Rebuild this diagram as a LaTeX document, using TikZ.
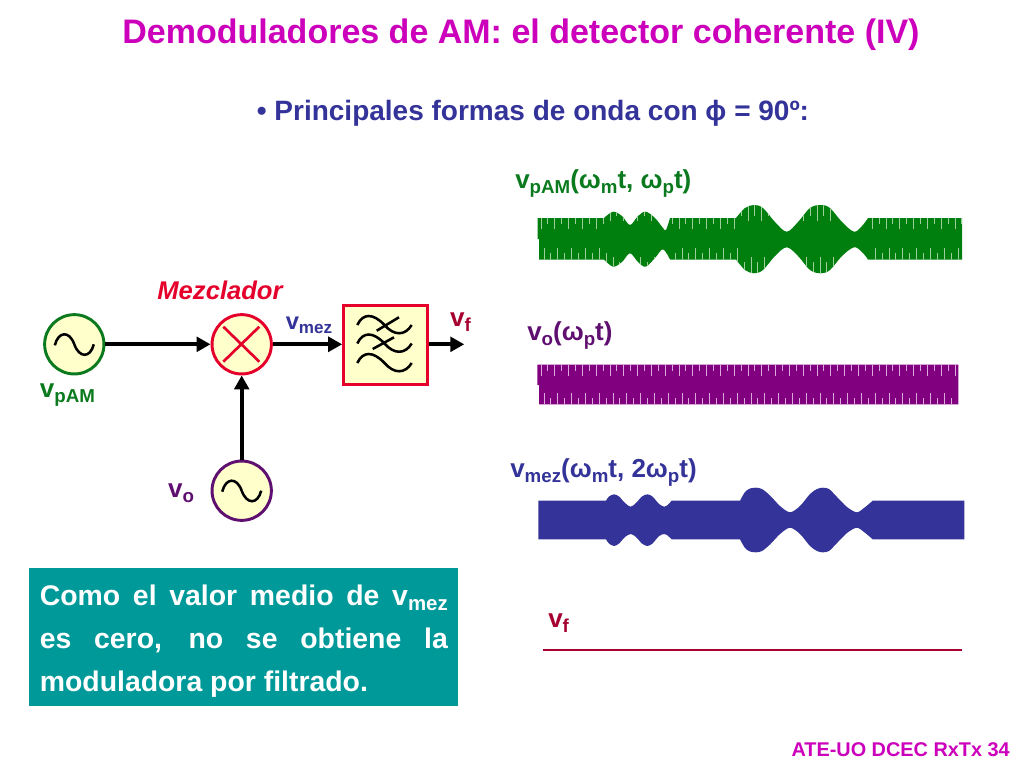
\documentclass[tikz,border=0pt]{standalone}
\usepackage{fontspec}
\setmainfont{Liberation Sans}
\usetikzlibrary{arrows.meta, calc}
\definecolor{cream}{HTML}{FFFFCC}
\definecolor{mixred}{HTML}{E4002B}
\definecolor{pamgreen}{HTML}{007F0E}
\definecolor{pamtick}{HTML}{9CCF9C}
\definecolor{ogreen}{HTML}{0B7A1E}
\definecolor{opurple}{HTML}{5F0F6F}
\definecolor{wavepurple}{HTML}{800080}
\definecolor{otick}{HTML}{DDA8DD}
\definecolor{mezblue}{HTML}{333399}
\definecolor{fdark}{HTML}{A5002F}
\definecolor{titlemag}{HTML}{CC00BB}
\definecolor{boxteal}{HTML}{009999}
\def\subs#1{\smash{\raisebox{-0.32ex}{\scalebox{0.72}{#1}}}}
\def\sinewave(#1)[#2:#3] {\draw[line width=1.9pt, #2] ($(#1)+(-#3,1)$) .. controls +(3.5,-14) and +(-5,-14) .. ($(#1)+(0,0)$) .. controls +(5,14) and +(-3.5,14) .. ($(#1)+(#3,0)$);}
\def\envgreen{(537.5,218) -- (604,218) -- plot[smooth, tension=0.55] coordinates {(604,218) (613,211.7) (622,216) (630,225) (638,216) (645.7,211.7) (655,218) (663,228) (666,230) (670,218)} -- (736,218) -- plot[smooth, tension=0.55] coordinates {(736,218) (745,208) (754,205) (763,208) (775,222) (786.7,231.7) (798,222) (810,208) (820.7,205) (830,208) (842,222) (854,231.7) (862,226) (868,218)} -- (962,218) -- (962,259.5) -- (868,259.5) -- plot[smooth, tension=0.55] coordinates {(868,259.5) (862,252) (854,247.3) (842,256) (830,270) (820.7,273.3) (810,270) (798,256) (786.7,247.3) (775,256) (763,270) (754,273.3) (745,270) (736,259.5)} -- (670,259.5) -- plot[smooth, tension=0.55] coordinates {(670,259.5) (663,249.3) (655,258) (645.7,266.7) (638,262) (630,253.3) (622,262) (613,266.7) (604,259.5)} -- (539,259.5) -- (539,239) -- (537.5,239) -- cycle}
\def\envblue{(538.3,500.7) -- (606,500.7) -- plot[smooth, tension=0.5] coordinates {(606,500.7) (609,496.5) (614,494.3) (619,496.5) (625,503) (630.7,506.7) (636,503) (642,496.5) (647.3,494.3) (652.5,496.5) (659,504) (664.3,506.7) (667,505.5) (671.7,500.7)} -- (740,500.7) -- plot[smooth, tension=0.5] coordinates {(740,500.7) (745,492) (750,488.5) (756,487.7) (762,489) (770,495.5) (780,506) (790,512.3) (800,506) (810,494) (817,489) (822.7,487.7) (829,489) (837,497) (847,507) (856.7,512.3) (864,508) (872.7,500.7)} -- (964.3,500.7) -- (964.3,539.3) -- (872.7,539.3) -- plot[smooth, tension=0.5] coordinates {(872.7,539.3) (864,532) (856.7,527.7) (847,533) (837,543) (829,551) (822.7,552.3) (817,551) (810,546) (800,534) (790,527.7) (780,534) (770,544.5) (762,551) (756,552.3) (750,551.5) (745,548) (740,539.3)} -- (671.7,539.3) -- plot[smooth, tension=0.5] coordinates {(671.7,539.3) (667,535) (664.3,534) (659,536) (652.5,543.5) (647.3,546) (642,543.5) (636,537) (630.7,534) (625,537) (619,543.5) (614,546) (609,543.5) (606,539.3)} -- (538.3,539.3) -- cycle}
\tikzset{
	source/.style={circle, draw=#1, line width=2.2pt, fill=cream, minimum size=44.5pt, inner sep=0pt},
	lbl/.style={text=#1, font=\fontsize{19.5}{24}\selectfont\bfseries, inner sep=0pt},
	wirearrow/.style={line width=2.9pt, -{Triangle[length=10.5pt, width=11pt]}},
	tickline/.style={line width=0.75pt, #1},
}

\begin{document}
\begin{tikzpicture}[x=0.75pt, y=-0.75pt]
	\useasboundingbox (0,0) rectangle (1024,768);

	\node[text=titlemag, font=\fontsize{25.5}{30}\selectfont\bfseries] (title) at (521,35) {Demoduladores de AM: el detector coherente (IV)};
	\node[text=mezblue, font=\fontsize{21}{25}\selectfont\bfseries] (subtitle) at (533,113) {• Principales formas de onda con ϕ = 90º:};

	% diagram
	\node[source=ogreen] (pam) at (74.3,344.3) {};
	\node[source=mixred] (mixer) at (241.7,344.3) {};
	\node[source=opurple] (osc) at (241.7,490.7) {};
	\node[draw=mixred, line width=2.4pt, fill=cream, minimum width=63pt, minimum height=59pt, inner sep=0pt] (filter) at (385.8,345.2) {};
	\coordinate (out) at (464.3,344.3);

	\draw[wirearrow] (pam) -- (mixer);
	\draw[wirearrow] (osc) -- (mixer);
	\draw[wirearrow] (mixer) -- (mixer -| filter.west);
	\draw[wirearrow] (filter.east |- out) -- (out);

	\sinewave(pam)[black:19.5]
	\sinewave(osc)[black:19.5]
	\draw[mixred, line width=2pt] (223.3,326.7) -- (259.3,361.7) (259.3,326.7) -- (223.3,361.7);

	\foreach \fy in {325,343.5,363} {
		\draw[line width=1.9pt] (357.3,\fy) .. controls (363,\fy-12) and (373,\fy-12) .. (384.5,\fy) .. controls (394,\fy+11) and (405,\fy+11) .. (411.7,\fy);
	}
	\draw[line width=1.9pt] (376.7,330.7) -- (399,317.3);
	\draw[line width=1.9pt] (372.7,349) -- (394,337.3);

	\node[text=mixred, font=\fontsize{19.2}{23}\selectfont\bfseries\itshape, inner sep=0pt] (mixlabel) at (220,290) {Mezclador};
	\node[lbl=mezblue, font=\fontsize{17.8}{21}\selectfont\bfseries] (vmezlabel) at (309,323) {v\subs{mez}};
	\node[lbl=fdark] (vflabel) at (460.5,320) {v\subs{f}};
	\node[lbl=ogreen] (pamlabel) at (67.5,391) {v\subs{pAM}};
	\node[lbl=opurple] (osclabel) at (181,491) {v\subs{o}};

	% waveforms
	\fill[pamgreen] \envgreen;
	\begin{scope}
		\clip \envgreen;
		\foreach \k in {0,...,61} {
			\pgfmathsetmacro\tx{541+6.9*\k}
			\pgfmathsetmacro\tflat{(\tx<604 || (\tx>670 && \tx<736) || \tx>868) ? 1 : 0}
			\pgfmathsetmacro\tlen{mod(\k,2)==0 ? 5 : 0}
			\draw[tickline=pamtick] (\tx,200) -- (\tx,{\tflat==1 ? 224+\tlen : 216+\tlen});
			\draw[tickline=pamtick] (\tx+3,280) -- (\tx+3,{\tflat==1 ? 253-\tlen : 262-\tlen});
		}
	\end{scope}
	\node[lbl=ogreen, anchor=west] (pamtitle) at (515,182) {v\subs{pAM}(ω\subs{m}t, ω\subs{p}t)};

	\fill[wavepurple] (537.3,364.7) -- (958.3,364.7) -- (958.3,404.3) -- (539,404.3) -- (539,385) -- (537.3,385) -- cycle;
	\begin{scope}
		\clip (537.3,364.7) rectangle (958.3,404.3);
		\foreach \k in {0,...,61} {
			\pgfmathsetmacro\tx{541+6.9*\k}
			\pgfmathsetmacro\tlen{mod(\k,2)==0 ? 5 : 0}
			\draw[tickline=otick] (\tx,360) -- (\tx,{371+\tlen});
			\draw[tickline=otick] (\tx+3,410) -- (\tx+3,{398-\tlen});
		}
	\end{scope}
	\node[lbl=opurple, anchor=west] (osctitle) at (527,334) {v\subs{o}(ω\subs{p}t)};

	\fill[mezblue] \envblue;
	\node[lbl=mezblue, anchor=west] (meztitle) at (510,471) {v\subs{mez}(ω\subs{m}t, 2ω\subs{p}t)};

	\node[lbl=fdark, anchor=west] (ftitle) at (548,621) {v\subs{f}};
	\draw[fdark, line width=1.7pt] (543,650) -- (962,650);

	% note and footer
	\node[fill=boxteal, text=white, font=\fontsize{21.3}{32.2}\selectfont\bfseries, anchor=north west, minimum width=321.75pt, minimum height=103.5pt, text width=306pt, align=justify, inner xsep=7.9pt, inner ysep=0pt] (note) at (29,568) {\rule{0pt}{21pt}Como el valor medio de v\subs{mez}\linebreak es cero, no se obtiene la\linebreak moduladora por filtrado.};
	\node[text=titlemag, font=\fontsize{14.9}{18}\selectfont\bfseries, anchor=east, inner sep=0pt] (footer) at (1010,750) {ATE-UO DCEC RxTx 34};

\end{tikzpicture}
\end{document}
